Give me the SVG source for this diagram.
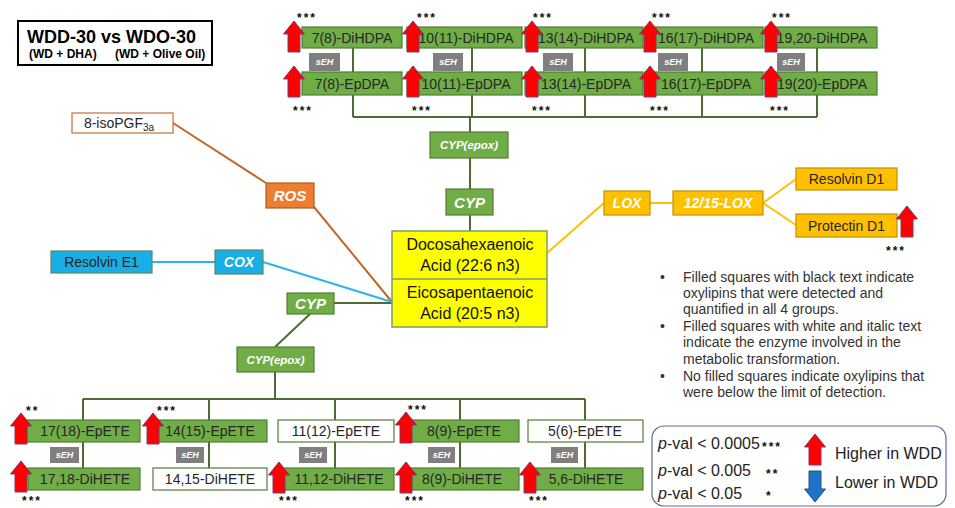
<svg xmlns="http://www.w3.org/2000/svg" xmlns:xlink="http://www.w3.org/1999/xlink" width="955" height="508" viewBox="0 0 955 508">
<defs>
<style>
text{font-family:"Liberation Sans",Arial,sans-serif;}
.g{fill:#70AD47;stroke:#507E32;stroke-width:1.2;}
.w{fill:#ffffff;stroke:#507E32;stroke-width:1.2;}
.lbl{font-size:14px;fill:#262626;text-anchor:middle;}
.enz{fill:#ffffff;font-weight:bold;font-style:italic;text-anchor:middle;}
.seh{fill:#7F7F7F;}
.sehT{fill:#ffffff;font-size:9px;font-weight:bold;font-style:italic;text-anchor:middle;}
.st{font-size:12px;font-weight:bold;fill:#111;letter-spacing:2px;}
.gl{stroke:#4E6B34;stroke-width:2;fill:none;}
.yel{fill:#FFC000;stroke:#C49000;stroke-width:1.2;}
.yl{stroke:#FFC000;stroke-width:2;fill:none;}
.bul{font-size:14px;fill:#333;}
.leg{font-size:16px;fill:#222;}
</style>
<path id="up" d="M0,0 L10.5,13 L6,13 L6,31 L-6,31 L-6,13 L-10.5,13 Z" fill="#FF0000" stroke="#7A3A6E" stroke-width="1"/>
<path id="down" d="M0,31 L10.5,18 L6,18 L6,0 L-6,0 L-6,18 L-10.5,18 Z" fill="#1F73C4" stroke="#2A4E80" stroke-width="1"/>
</defs>
<rect width="955" height="508" fill="#ffffff"/>

<!-- title -->
<g id="title">
<rect x="18" y="21" width="194" height="44" fill="#fff" stroke="#000" stroke-width="2"/>
<text x="27" y="43" font-size="18" font-weight="bold" fill="#000">WDD-30 vs WDO-30</text>
<text x="29" y="58" font-size="12" font-weight="bold" fill="#000">(WD + DHA)</text>
<text x="115" y="58" font-size="12" font-weight="bold" fill="#000">(WD + Olive Oil)</text>
</g>

<!-- connectors -->
<g id="connectors">
<path class="gl" d="M353,48 V117 M472,48 V117 M585,48 V117 M702,48 V117 M817,48 V117 M353,117 H817 M470,117 V231"/>
<path class="gl" d="M334,303 L392,303 M310,314 L275,347 M275,372 V399 M83,399 H585 M83,399 V468 M209,399 V468 M335,399 V468 M460,399 V468 M585,399 V468"/>
<path d="M173,123 L266,183 M314,207 L392,302" stroke="#C0672B" stroke-width="2" fill="none"/>
<path d="M152,262 L215,262 M263,262 L392,302" stroke="#2FB4E6" stroke-width="2" fill="none"/>
<path class="yl" d="M547,253 L604,203 M650,203 H673 M763,203 L796,179 M763,203 L796,225"/>
</g>

<!-- top DHA row -->
<g id="n78DiHDPA"><rect class="g" x="302" y="27" width="100" height="21"/><text class="lbl" x="352" y="43">7(8)-DiHDPA</text></g>
<g id="n1011DiHDPA"><rect class="g" x="407" y="27" width="115" height="21"/><text class="lbl" x="466" y="43">10(11)-DiHDPA</text></g>
<g id="n1314DiHDPA"><rect class="g" x="525" y="27" width="118" height="21"/><text class="lbl" x="586" y="43">13(14)-DiHDPA</text></g>
<g id="n1617DiHDPA"><rect class="g" x="645" y="27" width="118" height="21"/><text class="lbl" x="706" y="43">16(17)-DiHDPA</text></g>
<g id="n1920DiHDPA"><rect class="g" x="765" y="27" width="112" height="21"/><text class="lbl" x="822" y="43">19,20-DiHDPA</text></g>

<g id="n78EpDPA"><rect class="g" x="302" y="72" width="100" height="23"/><text class="lbl" x="352" y="89">7(8)-EpDPA</text></g>
<g id="n1011EpDPA"><rect class="g" x="407" y="72" width="115" height="23"/><text class="lbl" x="466" y="89">10(11)-EpDPA</text></g>
<g id="n1314EpDPA"><rect class="g" x="525" y="72" width="118" height="23"/><text class="lbl" x="586" y="89">13(14)-EpDPA</text></g>
<g id="n1617EpDPA"><rect class="g" x="645" y="72" width="118" height="23"/><text class="lbl" x="706" y="89">16(17)-EpDPA</text></g>
<g id="n1920EpDPA"><rect class="g" x="765" y="72" width="112" height="23"/><text class="lbl" x="822" y="89">19(20)-EpDPA</text></g>

<g id="sEH-top">
<rect class="seh" x="309" y="53" width="31" height="18"/><text class="sehT" x="324.5" y="65">sEH</text>
<rect class="seh" x="433" y="53" width="30" height="18"/><text class="sehT" x="448" y="65">sEH</text>
<rect class="seh" x="543" y="53" width="30" height="18"/><text class="sehT" x="558" y="65">sEH</text>
<rect class="seh" x="658" y="53" width="30" height="18"/><text class="sehT" x="673" y="65">sEH</text>
<rect class="seh" x="777" y="53" width="28" height="18"/><text class="sehT" x="791" y="65">sEH</text>
</g>

<g id="cypEpoxTop"><rect class="g" x="430" y="132" width="78" height="26"/><text class="enz" font-size="11.5" x="469" y="149">CYP(epox)</text></g>
<g id="cypTop"><rect class="g" x="446" y="189" width="47" height="26"/><text class="enz" font-size="15" x="469.5" y="208">CYP</text></g>

<g id="dha">
<rect x="392" y="231" width="155" height="96" fill="#FFFF00" stroke="#7F9F5F" stroke-width="1.5"/>
<line x1="392" y1="279" x2="547" y2="279" stroke="#7F9F5F" stroke-width="1.5"/>
<text x="470" y="250" font-size="16" fill="#111" text-anchor="middle">Docosahexaenoic</text>
<text x="470" y="271" font-size="16" fill="#111" text-anchor="middle">Acid (22:6 n3)</text>
<text x="470" y="298" font-size="16" fill="#111" text-anchor="middle">Eicosapentaenoic</text>
<text x="470" y="319" font-size="16" fill="#111" text-anchor="middle">Acid (20:5 n3)</text>
</g>

<!-- LOX branch -->
<g id="lox"><rect class="yel" x="604" y="191" width="46" height="24"/><text class="enz" font-size="14" x="627" y="208">LOX</text></g>
<g id="lox1215"><rect class="yel" x="673" y="191" width="90" height="24"/><text class="enz" font-size="14" x="718" y="208">12/15-LOX</text></g>
<g id="resolvinD1"><rect class="yel" x="796" y="168" width="101" height="22"/><text class="lbl" x="846.5" y="184">Resolvin D1</text></g>
<g id="protectinD1"><rect class="yel" x="796" y="214" width="101" height="23"/><text class="lbl" x="846.5" y="231">Protectin D1</text></g>

<!-- ROS / COX -->
<g id="isoPGF"><rect x="72" y="113" width="101" height="20" fill="#fff" stroke="#C0703A" stroke-width="1.2"/><text class="lbl" x="119" y="128">8-isoPGF<tspan font-size="10" dy="3">3a</tspan></text></g>
<g id="ros"><rect x="266" y="183" width="48" height="25" fill="#ED7D31" stroke="#AE5A21" stroke-width="1.2"/><text class="enz" font-size="15" x="290" y="201">ROS</text></g>
<g id="resolvinE1"><rect x="51" y="251" width="101" height="22" fill="#1AAEE6" stroke="#5A8A5A" stroke-width="1.2"/><text class="lbl" x="101.5" y="267">Resolvin E1</text></g>
<g id="cox"><rect x="215" y="250" width="48" height="24" fill="#1AAEE6" stroke="#5A8A5A" stroke-width="1.2"/><text class="enz" font-size="14" x="239" y="267">COX</text></g>

<!-- EPA branch -->
<g id="cypLow"><rect class="g" x="287" y="293" width="47" height="21"/><text class="enz" font-size="15" x="310.5" y="309">CYP</text></g>
<g id="cypEpoxLow"><rect class="g" x="237" y="347" width="77" height="25"/><text class="enz" font-size="11.5" x="275.5" y="364">CYP(epox)</text></g>

<g id="n1718EpETE"><rect class="g" x="27" y="420" width="113" height="22"/><text class="lbl" x="85" y="436">17(18)-EpETE</text></g>
<g id="n1415EpETE"><rect class="g" x="155" y="420" width="112" height="22"/><text class="lbl" x="210" y="436">14(15)-EpETE</text></g>
<g id="n1112EpETE"><rect class="w" x="278" y="420" width="116" height="22"/><text class="lbl" x="336" y="436">11(12)-EpETE</text></g>
<g id="n89EpETE"><rect class="g" x="403" y="420" width="116" height="22"/><text class="lbl" x="464" y="436">8(9)-EpETE</text></g>
<g id="n56EpETE"><rect class="w" x="528" y="420" width="115" height="22"/><text class="lbl" x="585" y="436">5(6)-EpETE</text></g>

<g id="n1718DiHETE"><rect class="g" x="28" y="468" width="112" height="22"/><text class="lbl" x="85" y="484">17,18-DiHETE</text></g>
<g id="n1415DiHETE"><rect class="w" x="153" y="468" width="114" height="22"/><text class="lbl" x="210" y="484">14,15-DiHETE</text></g>
<g id="n1112DiHETE"><rect class="g" x="280" y="468" width="114" height="22"/><text class="lbl" x="339" y="484">11,12-DiHETE</text></g>
<g id="n89DiHETE"><rect class="g" x="405" y="468" width="114" height="22"/><text class="lbl" x="462" y="484">8(9)-DiHETE</text></g>
<g id="n56DiHETE"><rect class="g" x="533" y="468" width="110" height="22"/><text class="lbl" x="586" y="484">5,6-DiHETE</text></g>

<g id="sEH-bottom">
<rect class="seh" x="50" y="447" width="29" height="16"/><text class="sehT" x="64.5" y="458">sEH</text>
<rect class="seh" x="176" y="447" width="28" height="16"/><text class="sehT" x="190" y="458">sEH</text>
<rect class="seh" x="299" y="447" width="28" height="16"/><text class="sehT" x="313" y="458">sEH</text>
<rect class="seh" x="428" y="447" width="27" height="16"/><text class="sehT" x="441.5" y="458">sEH</text>
<rect class="seh" x="551" y="447" width="27" height="16"/><text class="sehT" x="564.5" y="458">sEH</text>
</g>

<!-- arrows -->
<g id="arrows">
<use xlink:href="#up" href="#up" x="294" y="21"/>
<use xlink:href="#up" href="#up" x="413" y="21"/>
<use xlink:href="#up" href="#up" x="532" y="21"/>
<use xlink:href="#up" href="#up" x="650" y="21"/>
<use xlink:href="#up" href="#up" x="771" y="21"/>
<use xlink:href="#up" href="#up" x="294" y="66"/>
<use xlink:href="#up" href="#up" x="413" y="66"/>
<use xlink:href="#up" href="#up" x="532" y="66"/>
<use xlink:href="#up" href="#up" x="650" y="66"/>
<use xlink:href="#up" href="#up" x="771" y="66"/>
<use xlink:href="#up" href="#up" x="907" y="206"/>
<use xlink:href="#up" href="#up" x="21" y="413"/>
<use xlink:href="#up" href="#up" x="153" y="413"/>
<use xlink:href="#up" href="#up" x="406" y="412"/>
<use xlink:href="#up" href="#up" x="21" y="461"/>
<use xlink:href="#up" href="#up" x="279" y="462"/>
<use xlink:href="#up" href="#up" x="406" y="462"/>
<use xlink:href="#up" href="#up" x="530" y="462"/>
</g>

<g id="stars">
<text class="st" x="297" y="22">***</text>
<text class="st" x="417" y="22">***</text>
<text class="st" x="533" y="22">***</text>
<text class="st" x="652" y="22">***</text>
<text class="st" x="772" y="22">***</text>
<text class="st" x="293" y="115">***</text>
<text class="st" x="412" y="115">***</text>
<text class="st" x="532" y="115">***</text>
<text class="st" x="650" y="115">***</text>
<text class="st" x="770" y="115">***</text>
<text class="st" x="886" y="255">***</text>
<text class="st" x="26" y="415">**</text>
<text class="st" x="157" y="415">***</text>
<text class="st" x="408" y="414">***</text>
<text class="st" x="22" y="505">***</text>
<text class="st" x="279" y="505">***</text>
<text class="st" x="405" y="505">***</text>
<text class="st" x="529" y="505">***</text>
</g>

<!-- notes -->
<g id="notes">
<text class="bul" x="660" y="282">•</text><text class="bul" x="683" y="282">Filled squares with black text indicate</text>
<text class="bul" x="683" y="298">oxylipins that were detected and</text>
<text class="bul" x="683" y="314">quantified in all 4 groups.</text>
<text class="bul" x="660" y="331">•</text><text class="bul" x="683" y="331">Filled squares with white and italic text</text>
<text class="bul" x="683" y="347">indicate the enzyme involved in the</text>
<text class="bul" x="683" y="364">metabolic transformation.</text>
<text class="bul" x="660" y="381">•</text><text class="bul" x="683" y="381">No filled squares indicate oxylipins that</text>
<text class="bul" x="683" y="397">were below the limit of detection.</text>
</g>

<!-- legend -->
<g id="legend">
<rect x="652" y="426" width="294" height="80" rx="12" ry="12" fill="#fff" stroke="#5C7090" stroke-width="1.2"/>
<text class="leg" x="658" y="449"><tspan font-style="italic">p</tspan>-val &lt; 0.0005</text>
<text class="leg" x="658" y="476"><tspan font-style="italic">p</tspan>-val &lt; 0.005</text>
<text class="leg" x="658" y="499"><tspan font-style="italic">p</tspan>-val &lt; 0.05</text>
<text class="st" x="762" y="451" letter-spacing="1">***</text>
<text class="st" x="766" y="478" letter-spacing="1">**</text>
<text class="st" x="766" y="500">*</text>
<use xlink:href="#up" href="#up" x="815" y="434"/>
<use xlink:href="#down" href="#down" x="815" y="471"/>
<text class="leg" x="835" y="459">Higher in WDD</text>
<text class="leg" x="835" y="488">Lower in WDD</text>
</g>
</svg>
